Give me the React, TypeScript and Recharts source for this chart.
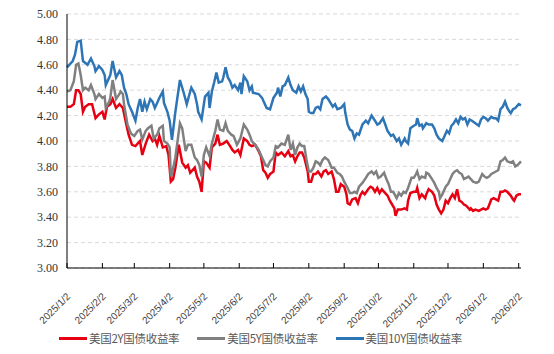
import { LineChart, Line, XAxis, YAxis, CartesianGrid, Legend } from "recharts"

// calendar day offsets from 2025/1/2
const START = Date.UTC(2025, 0, 2)

const tickLabels = [
  "2025/1/2", "2025/2/2", "2025/3/2", "2025/4/2", "2025/5/2", "2025/6/2", "2025/7/2",
  "2025/8/2", "2025/9/2", "2025/10/2", "2025/11/2", "2025/12/2", "2026/1/2", "2026/2/2",
]

const yTicks = [3.0, 3.2, 3.4, 3.6, 3.8, 4.0, 4.2, 4.4, 4.6, 4.8, 5.0]

const days2Y = [
  0, 3, 6, 8, 10, 12, 14, 16, 19, 22, 25, 28, 31, 33, 35, 38, 40, 43, 46, 49,
  52, 54, 57, 60, 64, 66, 69, 72, 75, 77, 79, 81, 84, 87, 89, 91, 93, 95, 98, 101,
  104, 106, 108, 112, 114, 116, 118, 120, 122, 125, 127, 130, 132, 134, 137, 140, 143, 145, 147, 150,
  152, 155, 158, 160, 162, 165, 168, 170, 172, 174, 176, 178, 181, 183, 185, 188, 191, 194, 196, 198,
  200, 202, 204, 206, 208, 211, 212, 214, 216, 218, 220, 223, 225, 227, 229, 232, 234, 236, 238, 240,
  243, 245, 246, 248, 250, 253, 255, 257, 259, 261, 264, 266, 268, 270, 272, 274, 276, 278, 281, 283,
  285, 287, 288, 290, 293, 296, 298, 299, 301, 304, 306, 307, 309, 311, 314, 315, 317, 320, 322, 324,
  326, 328, 330, 332, 334, 336, 338, 340, 342, 344, 346, 348, 350, 353, 354, 356, 358, 361, 363, 365,
  367, 369, 372, 374, 376, 378, 380, 382, 384, 386, 389, 391, 392, 394, 396, 398,
]
const yield2Y = [
  4.27, 4.27, 4.29, 4.40, 4.40, 4.37, 4.23, 4.27, 4.29, 4.29, 4.18, 4.21, 4.23, 4.17, 4.27, 4.29, 4.33, 4.26, 4.29, 4.26,
  4.13, 4.05, 3.97, 3.96, 4.00, 3.89, 3.98, 4.05, 4.00, 4.02, 3.97, 4.04, 3.95, 3.96, 3.89, 3.68, 3.70, 3.79, 3.97, 3.83,
  3.79, 3.81, 3.75, 3.79, 3.72, 3.68, 3.60, 3.84, 3.83, 3.79, 3.95, 3.98, 4.05, 3.97, 3.98, 4.00, 3.96, 3.93, 3.91, 3.93,
  3.89, 4.02, 4.00, 3.97, 3.96, 3.97, 3.92, 3.88, 3.77, 3.75, 3.71, 3.74, 3.76, 3.91, 3.89, 3.91, 3.88, 3.92, 3.88, 3.89,
  3.84, 3.88, 3.91, 3.91, 3.87, 3.76, 3.68, 3.68, 3.74, 3.74, 3.76, 3.72, 3.76, 3.77, 3.74, 3.76, 3.70, 3.60, 3.60, 3.66,
  3.64, 3.58, 3.51, 3.50, 3.54, 3.55, 3.51, 3.57, 3.60, 3.58, 3.62, 3.64, 3.63, 3.60, 3.63, 3.59, 3.62, 3.60, 3.57, 3.53,
  3.50, 3.47, 3.41, 3.46, 3.46, 3.47, 3.46, 3.53, 3.59, 3.60, 3.60, 3.63, 3.55, 3.58, 3.55, 3.58, 3.62, 3.60, 3.57, 3.50,
  3.46, 3.43, 3.46, 3.53, 3.51, 3.55, 3.58, 3.55, 3.62, 3.53, 3.52, 3.50, 3.49, 3.46, 3.47, 3.45, 3.46, 3.45, 3.46, 3.47,
  3.46, 3.47, 3.54, 3.55, 3.54, 3.53, 3.60, 3.60, 3.61, 3.60, 3.57, 3.54, 3.53, 3.57, 3.58, 3.58,
]

const days5Y = [
  0, 3, 6, 8, 10, 12, 14, 16, 19, 21, 24, 25, 28, 31, 33, 34, 37, 38, 40, 43,
  46, 47, 49, 50, 53, 56, 59, 62, 64, 66, 69, 71, 74, 76, 79, 81, 84, 85, 88, 90,
  91, 92, 95, 99, 101, 104, 106, 109, 112, 114, 116, 118, 120, 122, 125, 127, 130, 132, 134, 137,
  139, 141, 144, 146, 149, 152, 155, 158, 160, 162, 165, 168, 171, 174, 176, 178, 181, 183, 185, 188,
  191, 194, 196, 198, 200, 202, 204, 206, 208, 210, 212, 214, 216, 218, 220, 222, 224, 226, 229, 230,
  232, 234, 237, 239, 241, 243, 246, 248, 250, 252, 254, 256, 259, 262, 264, 267, 269, 271, 273, 275,
  278, 280, 282, 284, 286, 289, 291, 293, 295, 297, 299, 302, 304, 306, 307, 309, 311, 314, 315, 317,
  320, 322, 324, 326, 327, 329, 332, 334, 336, 338, 340, 342, 344, 346, 348, 350, 352, 354, 356, 359,
  361, 364, 366, 368, 370, 372, 374, 376, 378, 380, 382, 384, 386, 389, 391, 393, 395, 398,
]
const yield5Y = [
  4.39, 4.40, 4.47, 4.60, 4.61, 4.52, 4.40, 4.42, 4.40, 4.44, 4.37, 4.33, 4.37, 4.34, 4.35, 4.26, 4.31, 4.34, 4.48, 4.33,
  4.37, 4.39, 4.37, 4.29, 4.13, 4.06, 4.04, 4.08, 4.09, 4.01, 4.08, 4.10, 4.12, 4.02, 4.05, 4.10, 4.12, 4.00, 3.98, 3.95,
  3.72, 3.74, 3.87, 4.14, 4.10, 3.92, 3.97, 3.97, 3.87, 3.85, 3.81, 3.72, 3.89, 3.95, 3.88, 3.98, 4.08, 4.17, 4.09, 4.08,
  4.14, 4.08, 4.05, 4.04, 3.97, 4.02, 4.13, 4.09, 4.05, 4.00, 3.97, 3.93, 3.87, 3.81, 3.80, 3.84, 3.87, 3.96, 3.95, 3.98,
  3.97, 4.05, 3.93, 3.98, 3.89, 3.95, 3.98, 3.96, 3.96, 3.85, 3.76, 3.76, 3.79, 3.84, 3.83, 3.81, 3.85, 3.87, 3.85, 3.83,
  3.79, 3.79, 3.75, 3.74, 3.72, 3.68, 3.63, 3.59, 3.59, 3.60, 3.59, 3.64, 3.67, 3.71, 3.74, 3.76, 3.74, 3.76, 3.71, 3.72,
  3.75, 3.70, 3.66, 3.60, 3.60, 3.55, 3.59, 3.57, 3.60, 3.59, 3.63, 3.71, 3.71, 3.74, 3.76, 3.70, 3.72, 3.71, 3.75, 3.74,
  3.70, 3.67, 3.63, 3.60, 3.55, 3.58, 3.64, 3.66, 3.70, 3.74, 3.76, 3.77, 3.75, 3.74, 3.70, 3.71, 3.72, 3.70, 3.68, 3.67,
  3.68, 3.74, 3.72, 3.71, 3.72, 3.74, 3.75, 3.76, 3.77, 3.84, 3.85, 3.87, 3.84, 3.83, 3.84, 3.80, 3.81, 3.84,
]

const days10Y = [
  0, 5, 7, 9, 12, 14, 18, 21, 24, 25, 28, 31, 33, 34, 37, 38, 40, 43, 46, 48,
  50, 52, 54, 57, 60, 62, 64, 66, 68, 70, 73, 75, 77, 79, 81, 84, 85, 88, 90, 92,
  95, 99, 102, 105, 108, 109, 112, 114, 115, 118, 120, 121, 124, 125, 127, 129, 131, 133, 136, 137,
  139, 141, 143, 145, 147, 150, 152, 153, 155, 158, 160, 162, 163, 168, 171, 173, 175, 178, 181, 184,
  185, 187, 189, 191, 194, 196, 198, 201, 203, 205, 207, 209, 211, 212, 214, 216, 218, 220, 222, 224,
  227, 229, 231, 233, 235, 237, 240, 243, 244, 246, 248, 250, 252, 254, 256, 259, 262, 264, 267, 270,
  272, 274, 277, 279, 281, 284, 286, 289, 291, 293, 296, 297, 299, 301, 304, 306, 307, 309, 311, 312,
  315, 317, 320, 322, 324, 326, 329, 331, 333, 335, 337, 339, 341, 343, 345, 347, 349, 351, 353, 355,
  358, 361, 363, 365, 367, 369, 372, 374, 376, 378, 380, 382, 384, 386, 388, 389, 391, 393, 396, 398,
]
const yield10Y = [
  4.58, 4.63, 4.68, 4.78, 4.79, 4.63, 4.60, 4.65, 4.59, 4.55, 4.59, 4.56, 4.52, 4.44, 4.50, 4.52, 4.63, 4.50, 4.55, 4.52,
  4.42, 4.37, 4.29, 4.23, 4.16, 4.26, 4.33, 4.23, 4.31, 4.25, 4.33, 4.31, 4.26, 4.30, 4.34, 4.39, 4.30, 4.23, 4.16, 4.01,
  4.23, 4.48, 4.39, 4.29, 4.39, 4.42, 4.37, 4.29, 4.23, 4.17, 4.29, 4.35, 4.38, 4.26, 4.39, 4.46, 4.54, 4.46, 4.47, 4.50,
  4.58, 4.50, 4.47, 4.42, 4.44, 4.40, 4.46, 4.37, 4.51, 4.47, 4.40, 4.43, 4.38, 4.37, 4.34, 4.30, 4.26, 4.25, 4.34, 4.38,
  4.42, 4.35, 4.43, 4.44, 4.50, 4.44, 4.40, 4.38, 4.43, 4.39, 4.43, 4.37, 4.33, 4.23, 4.22, 4.22, 4.26, 4.27, 4.25, 4.33,
  4.35, 4.33, 4.30, 4.27, 4.29, 4.25, 4.26, 4.29, 4.22, 4.13, 4.09, 4.08, 4.02, 4.06, 4.05, 4.13, 4.16, 4.14, 4.20, 4.16,
  4.13, 4.14, 4.18, 4.13, 4.08, 4.04, 4.05, 4.00, 4.02, 3.97, 4.02, 4.00, 3.98, 4.10, 4.12, 4.13, 4.18, 4.12, 4.13, 4.10,
  4.14, 4.13, 4.13, 4.10, 4.05, 4.02, 4.00, 4.04, 4.08, 4.06, 4.12, 4.14, 4.17, 4.14, 4.19, 4.17, 4.18, 4.13, 4.17, 4.16,
  4.14, 4.12, 4.17, 4.19, 4.18, 4.16, 4.19, 4.18, 4.18, 4.16, 4.25, 4.27, 4.31, 4.26, 4.23, 4.22, 4.25, 4.26, 4.29, 4.28,
]

const toRows = (days: number[], values: number[]) => days.map((d, i) => ({ day: d, value: values[i] }))

const dayOf = (label: string) => {
  const [y, m, d] = label.split("/").map(Number)
  return Math.round((Date.UTC(y, m - 1, d) - START) / 86400000)
}

const xTicks = tickLabels.map(dayOf)

const series = [
  { name: "美国2Y国债收益率", color: "#E60012", data: toRows(days2Y, yield2Y) },
  { name: "美国5Y国债收益率", color: "#808080", data: toRows(days5Y, yield5Y) },
  { name: "美国10Y国债收益率", color: "#2E75B6", data: toRows(days10Y, yield10Y) },
]

const DateTick = ({ x, y, payload }: any) => {
  const label = tickLabels[xTicks.indexOf(payload.value)]
  const tx = x + 4
  const ty = y + 29
  return (
    <g>
      <line x1={x} x2={x} y1={y} y2={y - 5} stroke="#000" />
      <text
        x={tx}
        y={ty}
        textAnchor="end"
        transform={`rotate(-45 ${tx} ${ty})`}
        fontSize={10}
        fontFamily="Liberation Sans, sans-serif"
        fill="#404040"
      >
        {label}
      </text>
    </g>
  )
}

const LegendContent = () => (
  <div style={{ display: "flex", justifyContent: "center", height: 20, alignItems: "center" }}>
    {series.map((s) => (
      <div key={s.name} style={{ display: "flex", alignItems: "center", margin: "0 9px" }}>
        <div style={{ width: 28, height: 3, background: s.color, marginRight: 2 }} />
        <span style={{ fontSize: 11.5, color: "#595959", fontFamily: "Noto Sans CJK SC", letterSpacing: -0.3 }}>
          {s.name}
        </span>
      </div>
    ))}
  </div>
)

export default function App() {
  return (
    <div style={{ position: "absolute", left: 0, top: 0, width: 554, height: 354, background: "#fff" }}>
      <LineChart width={554} height={354} margin={{ top: 14, right: 33, bottom: 6, left: 0 }}>
        <CartesianGrid vertical={false} stroke="#d9d9d9" strokeDasharray="4 3" />
        <XAxis
          type="number"
          dataKey="day"
          domain={[0, 398]}
          ticks={xTicks}
          interval={0}
          height={60}
          tickSize={0}
          tickMargin={0}
          tickLine={false}
          axisLine={{ stroke: "#000" }}
          tick={<DateTick />}
        />
        <YAxis
          type="number"
          domain={[3, 5]}
          ticks={yTicks}
          interval={0}
          width={67}
          tickSize={0}
          tickMargin={9}
          tickLine={false}
          axisLine={{ stroke: "#000" }}
          tickFormatter={(v: number) => v.toFixed(2)}
          tick={{ fontSize: 12, fill: "#333", fontFamily: "Liberation Serif, serif" }}
        />
        {series.map((s) => (
          <Line
            key={s.name}
            data={s.data}
            dataKey="value"
            name={s.name}
            type="linear"
            stroke={s.color}
            strokeWidth={2.5}
            dot={false}
            isAnimationActive={false}
          />
        ))}
        <Legend verticalAlign="bottom" content={<LegendContent />} />
      </LineChart>
    </div>
  )
}
